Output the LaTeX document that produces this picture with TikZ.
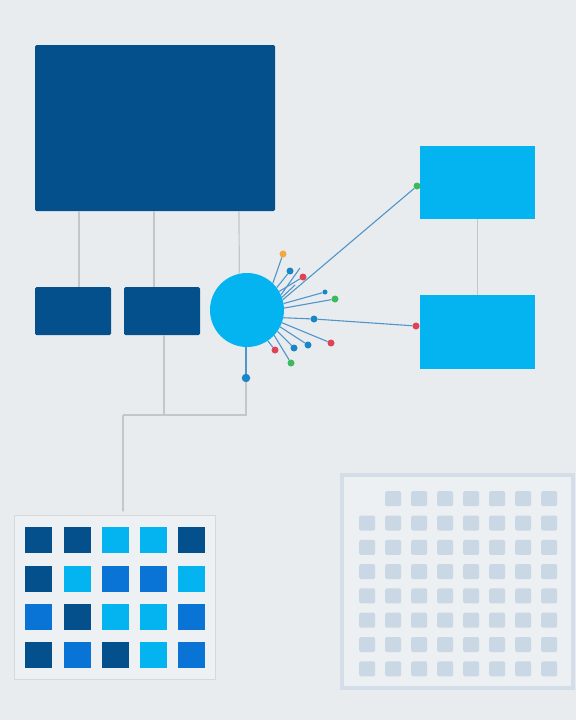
\documentclass[tikz,border=0pt]{standalone}
\usetikzlibrary{arrows.meta}
\definecolor{bg}{HTML}{E9ECEF}
\definecolor{navy}{HTML}{03508C}
\definecolor{cyanb}{HTML}{03B4F1}
\definecolor{midb}{HTML}{0A74D6}
\definecolor{conn}{HTML}{C3C6CA}
\definecolor{spoke}{HTML}{4F95CB}
\definecolor{dotblue}{HTML}{1A86C8}
\definecolor{dotred}{HTML}{DD4455}
\definecolor{dotgreen}{HTML}{3DBB5C}
\definecolor{dotorange}{HTML}{F2A93B}
\definecolor{ghost}{HTML}{CAD7E5}
\definecolor{ghostframe}{HTML}{D3DEE9}
\definecolor{framegray}{HTML}{D6D9DC}
\begin{document}
\begin{tikzpicture}[x=1pt,y=-1pt,
  navybox/.style={rectangle, fill=navy, inner sep=0pt, rounded corners=1.5pt},
  cyanbox/.style={rectangle, fill=cyanb, inner sep=0pt},
  hubnode/.style={circle, fill=cyanb, inner sep=0pt, minimum size=74pt},
  conline/.style={draw=conn, line width=1.2pt},
  spokeline/.style={draw=spoke, line width=1.1pt},
  dotnode/.style={circle, inner sep=0pt, minimum size=7pt},
  smalldot/.style={circle, inner sep=0pt, minimum size=5pt},
  cellnode/.style={rectangle, inner sep=0pt, minimum width=27pt, minimum height=26pt, anchor=north west},
  ghostcell/.style={rectangle, fill=ghost, inner sep=0pt, rounded corners=1.5pt, minimum width=16pt, minimum height=15pt, anchor=north west}
]
\fill[bg] (0,0) rectangle (576,720);
\useasboundingbox (0,0) rectangle (576,720);

% main boxes
\node[navybox, minimum width=240pt, minimum height=166pt] (top) at (155,128) {};
\node[navybox, minimum width=76pt, minimum height=48pt] (a1) at (73,311) {};
\node[navybox, minimum width=76pt, minimum height=48pt] (a2) at (162,311) {};
\node[hubnode] (hub) at (247,310) {};
\node[cyanbox, minimum width=115pt, minimum height=73pt] (r1) at (477.5,182.5) {};
\node[cyanbox, minimum width=115pt, minimum height=74pt] (r2) at (477.5,332) {};

% grids
\node[rectangle, draw=framegray, line width=1pt, fill=bg!75!white, minimum width=201pt, minimum height=164pt, inner sep=0pt] (gl) at (114.5,597) {};
\node[rectangle, draw=ghostframe, line width=4pt, fill=bg!80!white, minimum width=231pt, minimum height=213pt, inner sep=0pt] (gr) at (457.5,581.5) {};

\foreach \c [count=\i from 0] in {navy,navy,cyanb,cyanb,navy,
                                  navy,cyanb,midb,midb,cyanb,
                                  midb,navy,cyanb,cyanb,midb,
                                  navy,midb,navy,cyanb,midb} {
  \pgfmathtruncatemacro{\row}{int(\i/5)}
  \pgfmathtruncatemacro{\col}{mod(\i,5)}
  \pgfmathsetmacro{\xx}{25+38.3*\col}
  \pgfmathsetmacro{\yy}{527+38.4*\row}
  \node[cellnode, fill=\c] (lc-\i) at (\xx,\yy) {};
}
\foreach \r in {0,...,7} {
  \foreach \k in {0,...,7} {
    \pgfmathtruncatemacro{\skip}{(\r==0 && \k==0) ? 1 : 0}
    \ifnum\skip=0
      \node[ghostcell] (gc-\r-\k) at ({359+26*\k},{491+24.3*\r}) {};
    \fi
  }
}

% connector coordinates
\coordinate (v1) at (79,0);
\coordinate (v2) at (154,0);
\coordinate (v3) at (239,0);
\coordinate (j1) at (164,415);
\coordinate (j2) at (123,415);
\coordinate (j3) at (246,415);
\coordinate (gend) at (123,512);

% grey connectors
\draw[conline] (v1 |- top.south) -- (v1 |- a1.north);
\draw[conline] (v2 |- top.south) -- (v2 |- a2.north);
\draw[conline] (v3 |- top.south) -- (hub.102.5);
\draw[conline] (r1.south) -- (r2.north);
\draw[conline] (j1 |- a2.south) -- (j1);

% hub bottom
\node[dotnode, fill=dotblue, minimum size=8.5pt] (d0) at (246,378) {};
\draw[draw=spoke, line width=1.3pt] (hub.south -| d0) -- (d0);
\draw[conline] (d0) -- (j3) -- (j2);
\draw[conline, -{Stealth[length=2.5pt,width=2.5pt]}] (j2) -- (gend);

% long lines to right boxes
\node[dotnode, fill=dotgreen] (dg1) at (417,186) {};
\node[dotnode, fill=dotred] (dr1) at (416,326) {};
\node[dotnode, fill=dotblue] (db1) at (314,319) {};
\draw[spokeline] (hub.16) -- (dg1);
\draw[spokeline] (hub.-12) -- (db1) -- (dr1);

% spokes
\node[dotnode, fill=dotorange] (s1) at (283,254) {};
\node[dotnode, fill=dotblue] (s2) at (290,271) {};
\node[dotnode, fill=dotred] (s3) at (303,277) {};
\node[smalldot, fill=dotblue] (s4) at (325,292) {};
\node[dotnode, fill=dotgreen] (s5) at (335,299) {};
\node[dotnode, fill=dotred] (s6) at (331,343) {};
\node[dotnode, fill=dotblue] (s7) at (308,345) {};
\node[dotnode, fill=dotblue] (s8) at (294,348) {};
\node[dotnode, fill=dotgreen] (s9) at (291,363) {};
\node[dotnode, fill=dotred] (s10) at (275,350) {};
\coordinate (e1) at (300,268);
\coordinate (e2) at (295,285);
\draw[spokeline] (hub.46) -- (s1);
\draw[spokeline] (hub.37) -- (s2);
\draw[spokeline] (hub.30) -- (s3);
\draw[spokeline] (hub.24) -- (e1);
\draw[spokeline] (hub.20) -- (e2);
\draw[spokeline] (hub.10) -- (s4);
\draw[spokeline] (hub.3) -- (s5);
\draw[spokeline] (hub.-20) -- (s6);
\draw[spokeline] (hub.-27) -- (s7);
\draw[spokeline] (hub.-35) -- (s8);
\draw[spokeline] (hub.-43) -- (s9);
\draw[spokeline] (hub.-56) -- (s10);
\end{tikzpicture}
\end{document}
